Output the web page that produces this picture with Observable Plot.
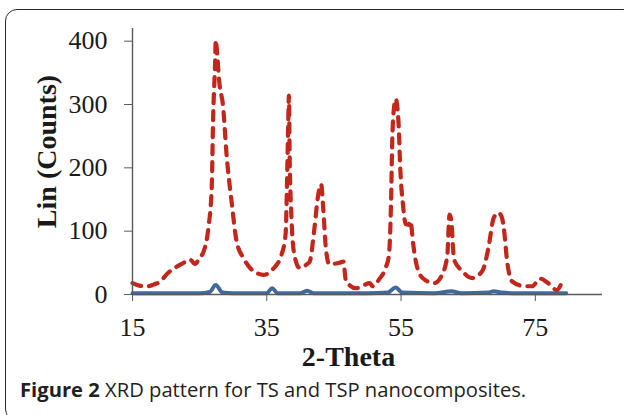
<!DOCTYPE html>
<html>
<head>
<meta charset="utf-8">
<script src="https://cdn.jsdelivr.net/npm/d3@7"></script>
<script src="https://cdn.jsdelivr.net/npm/@observablehq/plot@0.6"></script>
<style>
  html, body { margin: 0; padding: 0; background: #fff; width: 624px; height: 415px; overflow: hidden; }
  #wrap { position: relative; width: 624px; height: 415px; }
  #border { position: absolute; left: 5px; top: 9px; width: 630px; height: 412px; border: 1.6px solid #2a2a2a; border-radius: 12px; box-sizing: border-box; }
  #chart { position: absolute; left: 0; top: 0; }
  #caption { position: absolute; left: 20px; top: 379px; line-height: 20px; font-family: "Open Sans", sans-serif; font-size: 20.2px; color: #231f20; white-space: nowrap; }
  #caption b { font-weight: 700; }
</style>
</head>
<body>
<div id="wrap">
  <div id="border"></div>
  <div id="chart"></div>
  <div id="caption"><b>Figure 2</b> XRD pattern for TS and TSP nanocomposites.</div>
</div>
<script>
// TSP (red dashed) pattern: 2-theta and counts
const tspTheta = [15.0,16.0,17.2,18.2,19.1,20.1,21.0,21.6,22.6,23.6,24.3,25.0,25.6,26.3,26.8,27.0,27.3,27.4,27.6,27.9,28.5,29.0,29.8,30.5,31.5,32.5,33.5,34.5,35.9,37.2,37.8,38.0,38.2,38.3,38.4,38.7,39.1,39.9,41.0,41.4,42.1,42.6,43.1,43.4,43.8,44.3,45.8,46.4,46.8,48.3,49.5,50.3,50.8,51.8,52.7,53.2,53.5,53.7,54.0,54.2,54.6,54.9,55.3,55.7,56.1,56.4,56.8,57.2,58.2,59.9,61.1,61.9,62.1,62.2,62.5,62.7,62.9,64.1,65.6,67.1,68.0,68.8,69.5,70.0,70.3,70.8,71.5,73.5,74.5,75.7,76.9,78.2,78.9];
const tspCounts = [18,14,13,16,20,32,40,44,50,55,48,58,68,105,169,275,365,402,381,338,296,222,143,84,58,42,34,31,40,63,95,169,275,314,222,116,63,42,48,52,105,153,174,137,73,48,50,52,21,10,15,18,13,25,42,63,143,248,300,309,275,195,140,111,110,116,80,52,26,18,31,63,110,126,116,80,55,37,26,37,73,121,129,122,105,52,21,13,13,25,18,7,18];
// TS (blue solid) pattern
const tsTheta = [15,20,25,26.5,27.4,28.4,30,35,35.8,36.6,40,41.0,42,50,53,54.2,55.2,60,62.5,64,68,68.8,70,72,79.6];
const tsCounts = [2,2,2,4,15,3,2,2,10,2,2,6,2,2,3,11,3,2,5,2,3,5,3,2,2];

const xDomain = [15, 85];
const yDomain = [0, 420];
const xTicks = [15, 35, 55, 75];
const yTicks = [0, 100, 200, 300, 400];
const xTitle = "2-Theta";
const yTitle = "Lin (Counts)";

const tsp = tspTheta.map((t, i) => ({theta: t, counts: tspCounts[i]}));
const ts = tsTheta.map((t, i) => ({theta: t, counts: tsCounts[i]}));

const serif = "'Liberation Serif', 'Times New Roman', serif";
const axisColor = "#5a5a5a";

const chart = Plot.plot({
  width: 624,
  height: 375,
  marginLeft: 132,
  marginRight: 22,
  marginTop: 28,
  marginBottom: 81,
  style: { fontFamily: serif, fontSize: "26px", background: "transparent", overflow: "visible" },
  x: { domain: xDomain },
  y: { domain: yDomain },
  marks: [
    Plot.line(ts, { x: "theta", y: "counts", stroke: "#43699c", strokeWidth: 4, curve: "monotone-x" }),
    Plot.line(tsp, { x: "theta", y: "counts", stroke: "#c3261b", strokeWidth: 4.2, strokeDasharray: "9,8", strokeLinecap: "round", curve: "monotone-x" }),
    Plot.ruleX([xDomain[0]], { stroke: axisColor, strokeWidth: 1.4 }),
    Plot.ruleY([yDomain[0]], { stroke: axisColor, strokeWidth: 1.4 }),
    Plot.axisY({ ticks: yTicks, tickSize: 8, tickPadding: 17, stroke: axisColor, fill: "#1a1a1a", label: null, fontSize: 26 }),
    Plot.axisX({ ticks: xTicks, tickSize: 7, tickPadding: 16, stroke: axisColor, fill: "#1a1a1a", label: null, fontSize: 26 }),
    Plot.text([xTitle], { text: d => d, frameAnchor: "bottom", textAnchor: "middle", dx: -19, dy: 63, lineAnchor: "middle", fontWeight: "bold", fontSize: 28, fill: "#1a1a1a" }),
    Plot.text([yTitle], { text: d => d, frameAnchor: "left", textAnchor: "middle", rotate: -90, dx: -85, dy: -10, lineAnchor: "middle", fontWeight: "bold", fontSize: 28, fill: "#1a1a1a" })
  ]
});
document.getElementById("chart").appendChild(chart);
</script>
</body>
</html>
